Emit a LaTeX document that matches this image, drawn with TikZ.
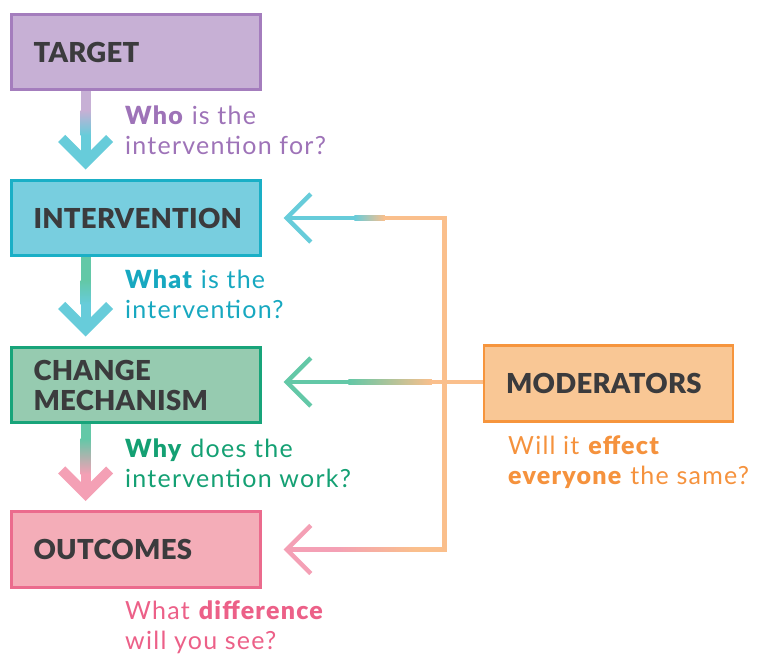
\documentclass[tikz,border=0pt]{standalone}
\usepackage{fontspec}
\setmainfont{Lato}[BoldFont={Lato Black}]
\usetikzlibrary{calc}

\definecolor{labeldark}{HTML}{3B3B3D}
\definecolor{purpfill}{HTML}{C7B0D5}
\definecolor{purpline}{HTML}{A47DBD}
\definecolor{purptext}{HTML}{9E73B8}
\definecolor{cyanfill}{HTML}{78CEDF}
\definecolor{cyanline}{HTML}{1AAFC6}
\definecolor{cyantext}{HTML}{17A8C0}
\definecolor{cyanarrow}{HTML}{67CCDA}
\definecolor{greenfill}{HTML}{96CBB0}
\definecolor{greenline}{HTML}{18A47A}
\definecolor{greentext}{HTML}{14A073}
\definecolor{greenarrow}{HTML}{63C8A7}
\definecolor{pinkfill}{HTML}{F4ADB8}
\definecolor{pinkline}{HTML}{EB6B8D}
\definecolor{pinktext}{HTML}{EC6088}
\definecolor{pinkarrow}{HTML}{F4A0B5}
\definecolor{orangefill}{HTML}{F9C795}
\definecolor{orangeline}{HTML}{F6953D}
\definecolor{orangetext}{HTML}{F5923D}
\definecolor{orangearrow}{HTML}{FABF8C}

\newfontfamily\questionfont{Lato}[BoldFont={Lato Black}, LetterSpace=5]
\newfontfamily\labelfont{Lato Black}[LetterSpace=1]

\tikzset{
  stagebox/.style={draw, line width=2.6pt, minimum width=249pt, minimum height=75.5pt,
    text width=205pt, inner xsep=22pt, inner ysep=0pt, align=left,
    font=\labelfont\fontsize{27.5}{30}\selectfont, text=labeldark},
  question/.style={anchor=base west, inner sep=0pt, align=left,
    font=\questionfont\fontsize{25}{29.5}\selectfont},
  vchevron/.style={line width=10pt, miter limit=10, line join=miter},
  hchevron/.style={line width=4.5pt, miter limit=10, line join=miter},
  feedline/.style={line width=4.5pt, line join=miter, miter limit=10, draw=orangearrow},
}

\begin{document}
\begin{tikzpicture}[x=1pt,y=-1pt]
\useasboundingbox (0,0) rectangle (763,654);

% stage boxes
\node[stagebox, fill=purpfill, draw=purpline] (target) at (136,52) {TARGET};
\node[stagebox, fill=cyanfill, draw=cyanline] (interv) at (136,218) {INTERVENTION};
\node[stagebox, fill=greenfill, draw=greenline] (mech) at (136,385) {CHANGE\\MECHANISM};
\node[stagebox, fill=pinkfill, draw=pinkline] (outc) at (136,549.5) {OUTCOMES};
\node[stagebox, fill=orangefill, draw=orangeline] (moder) at (608.5,383.5) {MODERATORS};

% attachment points of the downward arrows (left of the box centres)
\coordinate (tgtS) at ($(target.south west)+(75.5,0)$);
\coordinate (intN) at ($(interv.north west)+(75.5,0)$);
\coordinate (intS) at ($(interv.south west)+(75.5,0)$);
\coordinate (mecN) at ($(mech.north west)+(75.5,0)$);
\coordinate (mecS) at ($(mech.south west)+(75.5,0)$);
\coordinate (outN) at ($(outc.north west)+(75.5,0)$);

% downward arrows: shaft with a colour blend, then an open chevron
% target -> intervention
\fill[purpfill] ($(tgtS)+(-5,0)$) rectangle ($(tgtS)+(5,20)$);
\shade[top color=purpfill, bottom color=cyanarrow] ($(tgtS)+(-5,19.5)$) rectangle ($(tgtS)+(5,44)$);
\fill[cyanarrow] ($(tgtS)+(-5,43.5)$) rectangle ($(intN)+(5,-18)$);
\draw[vchevron, cyanarrow] ($(intN)+(-24,-40.5)$) -- ($(intN)+(0,-16.5)$) -- ($(intN)+(24,-40.5)$);

% intervention -> change mechanism
\fill[greenarrow] ($(intS)+(-5,0)$) rectangle ($(intS)+(5,24)$);
\shade[top color=greenarrow, bottom color=cyanarrow] ($(intS)+(-5,23.5)$) rectangle ($(intS)+(5,47)$);
\fill[cyanarrow] ($(intS)+(-5,46.5)$) rectangle ($(mecN)+(5,-18)$);
\draw[vchevron, cyanarrow] ($(mecN)+(-24,-40.5)$) -- ($(mecN)+(0,-16.5)$) -- ($(mecN)+(24,-40.5)$);

% change mechanism -> outcomes
\fill[greenarrow] ($(mecS)+(-5,0)$) rectangle ($(mecS)+(5,15)$);
\shade[top color=greenarrow, bottom color=pinkarrow] ($(mecS)+(-5,14.5)$) rectangle ($(mecS)+(5,50)$);
\fill[pinkarrow] ($(mecS)+(-5,49.5)$) rectangle ($(outN)+(5,-18)$);
\draw[vchevron, pinkarrow] ($(outN)+(-24,-40.5)$) -- ($(outN)+(0,-16.5)$) -- ($(outN)+(24,-40.5)$);

% moderators feed back into the three stages
\coordinate (trunktop) at ($(interv.east)+(182.5,0)$);
\coordinate (trunkbot) at ($(outc.east)+(182.5,0)$);

% to intervention
\fill[cyanarrow] ($(interv.east)+(25,-2.25)$) rectangle ($(interv.east)+(93,2.25)$);
\shade[left color=cyanarrow, right color=orangearrow] ($(interv.east)+(92.5,-2.25)$) rectangle ($(interv.east)+(123,2.25)$);
\draw[feedline] ($(interv.east)+(122.5,0)$) -- (trunktop) -- (trunkbot) -- ($(outc.east)+(152.5,0)$);
\draw[hchevron, cyanarrow] ($(interv.east)+(49,-24)$) -- ($(interv.east)+(25,0)$) -- ($(interv.east)+(49,24)$);

% to outcomes
\fill[pinkarrow] ($(outc.east)+(25,-2.25)$) rectangle ($(outc.east)+(75,2.25)$);
\shade[left color=pinkarrow, right color=orangearrow] ($(outc.east)+(74.5,-2.25)$) rectangle ($(outc.east)+(153,2.25)$);
\draw[hchevron, pinkarrow] ($(outc.east)+(49,-24)$) -- ($(outc.east)+(25,0)$) -- ($(outc.east)+(49,24)$);

% to change mechanism
\coordinate (midtip) at ($(mech.east)+(25,-3)$);
\fill[greenarrow] ($(midtip)+(0,-2.25)$) rectangle ($(midtip)+(62,2.25)$);
\shade[left color=greenarrow, right color=orangearrow] ($(midtip)+(61.5,-2.25)$) rectangle ($(midtip)+(145,2.25)$);
\draw[feedline] ($(midtip)+(144.5,0)$) -- (moder.west |- midtip);
\draw[hchevron, greenarrow] ($(midtip)+(24,-24)$) -- (midtip) -- ($(midtip)+(24,24)$);

% guiding questions (anchored at the baseline of their last line)
\node[question, text=purptext] (qtarget) at (125,154) {\textbf{Who} is the\\intervention for?};
\node[question, text=cyantext] (qinterv) at (125,318) {\textbf{What} is the\\intervention?};
\node[question, text=greentext] (qmech) at (125,487) {\textbf{Why} does the\\intervention work?};
\node[question, text=pinktext] (qoutc) at (125,649) {What \textbf{difference}\\will you see?};
\node[question, text=orangetext] (qmoder) at (508,484) {Will it \textbf{effect}\\\textbf{everyone} the same?};
\end{tikzpicture}
\end{document}
